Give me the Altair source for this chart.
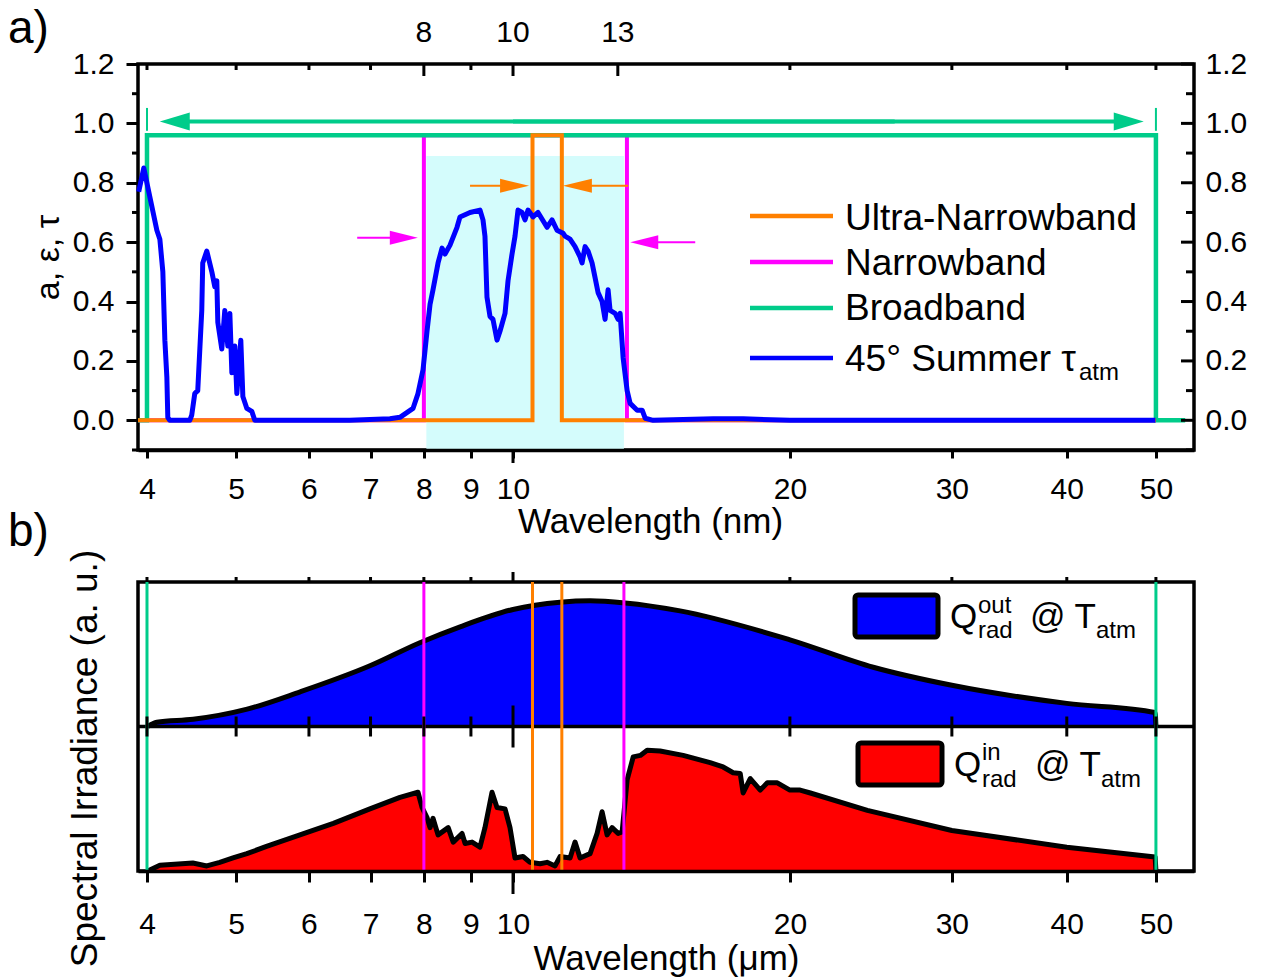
import math
import altair as alt
import pandas as pd

FONT = "Liberation Sans"
ORANGE = "#ff8000"
MAGENTA = "#ff00ff"
GREEN = "#00cc8a"
BLUE = "#0000ff"
RED = "#ff0000"
CYAN = "#d4fcfc"

# ---------------- values ----------------
# panel a : 45 deg summer atmospheric transmittance
tau_wl = [3.918, 3.968, 4.100, 4.131, 4.162, 4.183, 4.204, 4.214, 4.235, 4.452,
          4.474, 4.508, 4.542, 4.588, 4.599, 4.646, 4.705, 4.740, 4.764, 4.776,
          4.824, 4.860, 4.897, 4.922, 4.947, 4.984, 5.009, 5.059, 5.085, 5.136,
          5.200, 5.239, 5.866, 6.646, 7.348, 7.535, 7.785, 7.883, 7.983, 8.063,
          8.124, 8.185, 8.289, 8.372, 8.435, 8.541, 8.692, 8.757, 8.979, 9.206,
          9.276, 9.322, 9.369, 9.440, 9.511, 9.607, 9.679, 9.802, 9.876, 9.975,
          10.050, 10.126, 10.228, 10.305, 10.383, 10.514, 10.646, 10.889, 11.026, 11.165,
          11.334, 11.391, 11.535, 11.680, 11.828, 11.887, 11.977, 12.067, 12.189, 12.281,
          12.373, 12.498, 12.592, 12.687, 12.751, 12.912, 13.010, 13.075, 13.174, 13.306,
          13.407, 13.645, 13.817, 13.921, 14.203, 16.509, 17.796, 20.0, 49.94]
tau_val = [0.77, 0.85, 0.64, 0.61, 0.50, 0.27, 0.145, 0.01, 0.0, 0.0,
           0.017, 0.09, 0.10, 0.37, 0.53, 0.57, 0.50, 0.45, 0.47, 0.33,
           0.24, 0.37, 0.25, 0.36, 0.16, 0.25, 0.09, 0.27, 0.08, 0.04,
           0.03, 0.0, 0.0, 0.0, 0.005, 0.01, 0.04, 0.09, 0.17, 0.30,
           0.39, 0.44, 0.53, 0.58, 0.56, 0.59, 0.65, 0.685, 0.70, 0.708,
           0.675, 0.62, 0.415, 0.35, 0.34, 0.27, 0.30, 0.36, 0.47, 0.56,
           0.62, 0.708, 0.70, 0.675, 0.708, 0.685, 0.70, 0.65, 0.675, 0.64,
           0.63, 0.62, 0.61, 0.585, 0.55, 0.53, 0.585, 0.57, 0.53, 0.48,
           0.43, 0.40, 0.34, 0.44, 0.37, 0.36, 0.34, 0.36, 0.21, 0.10,
           0.057, 0.034, 0.034, 0.007, 0.0, 0.005, 0.005, 0.0, 0.0]

# ideal emitters (step profiles)
ultra_wl = [3.911, 10.5, 10.5, 11.3, 11.3, 50.0]
ultra_val = [0.0, 0.0, 0.96, 0.96, 0.0, 0.0]
narrow_wl = [3.911, 8.0, 8.0, 13.3, 13.3, 50.0]
narrow_val = [0.0, 0.0, 0.96, 0.96, 0.0, 0.0]
broad_wl = [3.911, 4.0, 4.0, 50.0, 50.0, 53.8]
broad_val = [0.0, 0.0, 0.96, 0.96, 0.0, 0.0]

# atmospheric window shading
window_wl = [8.05, 13.2]
window_v = [-0.1, 0.89]

# arrows: (tail, tip, level)
broad_arrows = [(26.0, 4.13, 1.006), (10.0, 48.5, 1.006)]
broad_marks_wl = [4.0, 50.0]
broad_marks_v = [0.975, 1.052]
ultra_arrows = [(8.98, 10.41, 0.79), (13.34, 11.33, 0.79)]
narrow_arrows = [(6.77, 7.88, 0.615), (15.78, 13.41, 0.60)]

legend_names = ["Ultra-Narrowband", "Narrowband", "Broadband", "45° Summer τ"]
legend_colors = [ORANGE, MAGENTA, GREEN, BLUE]

# panel b : spectral irradiance (a.u.)
qout_wl = [4.007, 4.10, 4.49, 5.14, 5.87, 6.99, 7.92, 8.76, 10.0, 11.25,
           12.13, 13.24, 15.19, 20.0, 24.64, 30.0, 40.0, 49.9, 50.0]
qout_val = [0.0, 0.03, 0.05, 0.12, 0.24, 0.42, 0.58, 0.69, 0.81, 0.86,
            0.87, 0.855, 0.80, 0.60, 0.41, 0.285, 0.16, 0.097, 0.0]
qin_wl = [4.007, 4.131, 4.486, 4.646, 4.799, 4.961, 5.136, 5.395, 5.866, 6.378,
          6.989, 7.535, 7.883, 7.963, 8.063, 8.124, 8.185, 8.289, 8.502, 8.610,
          8.802, 8.870, 9.025, 9.206, 9.322, 9.488, 9.607, 9.802, 9.925, 10.050,
          10.254, 10.435, 10.701, 10.889, 11.110, 11.249, 11.535, 11.680, 11.828, 12.128,
          12.343, 12.498, 12.656, 12.815, 13.010, 13.141, 13.306, 13.511, 13.754, 13.99,
          14.45, 15.31, 16.38, 16.92, 17.35, 17.66, 17.79, 18.11, 18.57, 18.90,
          19.38, 20.0, 20.52, 21.05, 24.28, 30.0, 40.0, 49.9, 50.0]
qin_val = [0.0, 0.04, 0.055, 0.035, 0.06, 0.09, 0.12, 0.17, 0.25, 0.33,
           0.43, 0.51, 0.545, 0.44, 0.37, 0.30, 0.365, 0.25, 0.30, 0.20,
           0.26, 0.19, 0.20, 0.165, 0.30, 0.545, 0.44, 0.43, 0.30, 0.09,
           0.10, 0.06, 0.05, 0.06, 0.035, 0.10, 0.09, 0.20, 0.09, 0.12,
           0.26, 0.41, 0.25, 0.30, 0.26, 0.27, 0.63, 0.79, 0.80, 0.835,
           0.83, 0.80, 0.75, 0.72, 0.68, 0.675, 0.54, 0.64, 0.56, 0.61,
           0.61, 0.56, 0.56, 0.54, 0.42, 0.28, 0.165, 0.097, 0.0]
band_lines_b = [(GREEN, [4.0, 50.0]), (MAGENTA, [8.0, 13.2]), (ORANGE, [10.5, 11.3])]

# ticks
x_ticks = [4, 5, 6, 7, 8, 9, 10, 20, 30, 40, 50]
x_short = [4, 5, 6, 7, 8, 9, 20, 30, 40, 50]
x_long = [10]
top_labels = [8, 10, 13]
top_short = [4, 5, 6, 7, 9, 20, 30, 40, 50]
y_major = [0.0, 0.2, 0.4, 0.6, 0.8, 1.0, 1.2]
y_minor = [-0.1, 0.1, 0.3, 0.5, 0.7, 0.9, 1.1]

# ---------------- layout ----------------
W = 1056
HA = 386
HB = 289
X_DOMAIN = [3.911, 55.0]
PX_PER_DEC = W / (math.log10(X_DOMAIN[1]) - math.log10(X_DOMAIN[0]))
ONE = pd.DataFrame({"k": [0]})
TICK_FS = 30

xscale = alt.Scale(type="log", domain=X_DOMAIN, nice=False)
ya_scale = alt.Scale(domain=[-0.1, 1.2], nice=False, zero=False)
yb_scale = alt.Scale(domain=[0, 2], nice=False, zero=False)


def x_axis(title, tick, pad, title_x, title_y):
    kw = dict(values=x_ticks, format="d", tickSize=tick, tickWidth=3, tickColor="black",
              labelFontSize=TICK_FS, labelPadding=pad, labelOverlap=False, labelFlush=False,
              labelColor="black", domain=True, domainColor="black", domainWidth=3.5,
              grid=False, zindex=1, title=title, titleFontSize=35, titleFontWeight="normal",
              titleY=title_y, titleBaseline="alphabetic", titleAlign="center", titleColor="black")
    if title_x is not None:
        kw["titleX"] = title_x
    return alt.Axis(**kw)


XA = alt.X("wl:Q", scale=xscale, axis=x_axis("Wavelength (nm)", 8, 16, 512, 82))
YA = alt.Y("v:Q", scale=ya_scale,
           axis=alt.Axis(values=y_major, format=".1f", tickSize=12, tickWidth=3, tickColor="black",
                         labelFontSize=TICK_FS, labelPadding=12, labelColor="black", domain=False,
                         grid=False, title="a, ε, τ", titleFontSize=34, titleFontWeight="normal",
                         titleX=-80, titleY=HA / 2, titleAngle=270, titleBaseline="alphabetic",
                         titleAlign="center", titleColor="black"))
YA_R = alt.Y("v:Q", scale=ya_scale,
             axis=alt.Axis(orient="right", values=y_major, format=".1f", ticks=False,
                           domain=False, grid=False, labelFontSize=TICK_FS, labelPadding=11,
                           labelColor="black", title=None))
XB = alt.X("wl:Q", scale=xscale, axis=x_axis("Wavelength (μm)", 11, 27, None, 98))
YB = alt.Y("top:Q", scale=yb_scale,
           axis=alt.Axis(labels=False, ticks=False, domain=False, grid=False,
                         title="Spectral Irradiance (a. u.)", titleFontSize=37,
                         titleFontWeight="normal", titleX=-42, titleY=176, titleAngle=270,
                         titleBaseline="alphabetic", titleAlign="center", titleColor="black"))


def text_at(s, x, y, size, align="left"):
    return alt.Chart(ONE).mark_text(text=s, font=FONT, fontSize=size, color="black",
                                    align=align, baseline="alphabetic").encode(
        x=alt.value(x), y=alt.value(y))


def step_line(wl, val, color, width):
    df = pd.DataFrame({"wl": wl, "v": val, "i": list(range(len(wl)))})
    return alt.Chart(df).mark_line(color=color, strokeWidth=width).encode(
        x=XA, y=YA, order=alt.Order("i:Q"))


def arrow(tail, tip, level, color, width, head_len, head_half):
    back = 10 ** ((head_len / 2) / PX_PER_DEC)
    end = tip / back if tip > tail else tip * back
    shaft = alt.Chart(pd.DataFrame({"wl": [min(tail, end)], "wl2": [max(tail, end)], "v": [level]})) \
        .mark_rule(color=color, strokeWidth=width).encode(x=XA, x2="wl2", y=YA)
    h = 2 * head_half / head_len
    if tip > tail:
        path = f"M0,0L-2,-{h:.3f}L-2,{h:.3f}Z"
    else:
        path = f"M0,0L2,-{h:.3f}L2,{h:.3f}Z"
    head = alt.Chart(pd.DataFrame({"wl": [tip], "v": [level]})).mark_point(
        shape=path, size=head_len ** 2, filled=True, opacity=1, color=color, strokeWidth=0
    ).encode(x=XA, y=YA)
    return [shaft, head]


# ---------------- panel a ----------------
layers_a = []
layers_a.append(alt.Chart(pd.DataFrame({"wl": [window_wl[0]], "wl2": [window_wl[1]],
                                        "v": [window_v[0]], "v2": [window_v[1]]}))
                .mark_rect(color=CYAN).encode(x=XA, x2="wl2", y=YA, y2="v2"))
layers_a.append(step_line(narrow_wl, narrow_val, MAGENTA, 4))
layers_a.append(step_line(broad_wl, broad_val, GREEN, 4.5))
layers_a.append(step_line(ultra_wl, ultra_val, ORANGE, 4))
layers_a.append(alt.Chart(pd.DataFrame({"wl": tau_wl, "v": tau_val})).mark_line(
    color=BLUE, strokeWidth=5, strokeJoin="round").encode(x=XA, y=YA))

# broadband double arrow + end markers
for tail, tip, lev in broad_arrows:
    layers_a += arrow(tail, tip, lev, GREEN, 4, 30, 9)
layers_a.append(alt.Chart(pd.DataFrame({"wl": broad_marks_wl,
                                        "v": [broad_marks_v[0]] * 2,
                                        "v2": [broad_marks_v[1]] * 2}))
                .mark_rule(color=GREEN, strokeWidth=2).encode(x=XA, y=YA, y2="v2"))
for tail, tip, lev in ultra_arrows:
    layers_a += arrow(tail, tip, lev, ORANGE, 2, 29, 7)
for tail, tip, lev in narrow_arrows:
    layers_a += arrow(tail, tip, lev, MAGENTA, 2, 28, 7)

# minor / inward ticks
layers_a.append(alt.Chart(pd.DataFrame({"v": y_minor})).mark_rule(color="black", strokeWidth=3)
                .encode(y=YA, x=alt.value(-6), x2=alt.value(0)))
layers_a.append(alt.Chart(pd.DataFrame({"wl": top_labels})).mark_rule(color="black", strokeWidth=3)
                .encode(x=XA, y=alt.value(0), y2=alt.value(12)))
layers_a.append(alt.Chart(pd.DataFrame({"wl": top_short})).mark_rule(color="black", strokeWidth=3)
                .encode(x=XA, y=alt.value(0), y2=alt.value(6)))
layers_a.append(alt.Chart(pd.DataFrame({"wl": x_long})).mark_rule(color="black", strokeWidth=3)
                .encode(x=XA, y=alt.value(HA), y2=alt.value(HA + 13)))
layers_a.append(alt.Chart(pd.DataFrame({"wl": top_labels, "lab": [str(t) for t in top_labels]}))
                .mark_text(font=FONT, fontSize=TICK_FS, color="black", baseline="alphabetic")
                .encode(x=XA, y=alt.value(-22), text="lab:N"))

# legend of panel a
row_line_y = [152, 198, 244, 294]
row_text_y = [166, 211, 256, 307]
for name, col, ly, ty in zip(legend_names, legend_colors, row_line_y, row_text_y):
    layers_a.append(alt.Chart(ONE).mark_rule(color=col, strokeWidth=4.5)
                    .encode(x=alt.value(612), x2=alt.value(695), y=alt.value(ly)))
    layers_a.append(text_at(name, 707, ty, 37))
layers_a.append(text_at("atm", 941, 316, 24))
layers_a.append(text_at("a)", -130, -21, 46))

right_a = alt.layer(
    alt.Chart(pd.DataFrame({"v": y_major})).mark_rule(color="black", strokeWidth=3)
    .encode(x=alt.value(W - 13), x2=alt.value(W), y=YA_R),
    alt.Chart(pd.DataFrame({"v": y_minor})).mark_rule(color="black", strokeWidth=3)
    .encode(x=alt.value(W - 8), x2=alt.value(W), y=YA_R),
)
panel_a = alt.layer(alt.layer(*layers_a), right_a).resolve_scale(y="independent") \
    .properties(width=W, height=HA)

# ---------------- panel b ----------------
qout_df = pd.DataFrame({"wl": qout_wl, "q": qout_val})
qin_df = pd.DataFrame({"wl": qin_wl, "q": qin_val})
layers_b = [
    alt.Chart(qout_df).transform_calculate(top="datum.q + 1", base="1")
    .mark_area(color=BLUE, interpolate="monotone").encode(x=XB, y=YB, y2="base:Q"),
    alt.Chart(qout_df).transform_calculate(top="datum.q + 1")
    .mark_line(color="black", strokeWidth=5, interpolate="monotone").encode(x=XB, y=YB),
    alt.Chart(qin_df).transform_calculate(top="datum.q", base="0")
    .mark_area(color=RED).encode(x=XB, y=YB, y2="base:Q"),
    alt.Chart(qin_df).transform_calculate(top="datum.q")
    .mark_line(color="black", strokeWidth=5, strokeJoin="round").encode(x=XB, y=YB),
    alt.Chart(pd.DataFrame({"top": [1]})).mark_rule(color="black", strokeWidth=3.5).encode(y=YB),
]
for col, wls in band_lines_b:
    layers_b.append(alt.Chart(pd.DataFrame({"wl": wls})).mark_rule(color=col, strokeWidth=3)
                    .encode(x=XB))
mid = HB / 2
for ticks, top_len, mid_len, bot_len in [(x_short, 5, 10, 0), (x_long, 10, 21, 23)]:
    tdf = pd.DataFrame({"wl": ticks})
    layers_b.append(alt.Chart(tdf).mark_rule(color="black", strokeWidth=3)
                    .encode(x=XB, y=alt.value(-top_len), y2=alt.value(0)))
    layers_b.append(alt.Chart(tdf).mark_rule(color="black", strokeWidth=3)
                    .encode(x=XB, y=alt.value(mid - mid_len), y2=alt.value(mid + mid_len)))
    if bot_len:
        layers_b.append(alt.Chart(tdf).mark_rule(color="black", strokeWidth=3)
                        .encode(x=XB, y=alt.value(HB), y2=alt.value(HB + bot_len)))

# legends of panel b
layers_b.append(alt.Chart(ONE).mark_rect(fill=BLUE, stroke="black", strokeWidth=5, cornerRadius=3)
                .encode(x=alt.value(717), x2=alt.value(800), y=alt.value(13), y2=alt.value(55)))
layers_b += [text_at("Q", 812, 46, 35), text_at("out", 840, 31, 24), text_at("rad", 840, 56, 24),
             text_at("@ T", 892, 46, 35), text_at("atm", 958, 56, 24)]
layers_b.append(alt.Chart(ONE).mark_rect(fill=RED, stroke="black", strokeWidth=5, cornerRadius=3)
                .encode(x=alt.value(720), x2=alt.value(804), y=alt.value(161), y2=alt.value(203)))
layers_b += [text_at("Q", 816, 194, 35), text_at("in", 844, 178, 24), text_at("rad", 844, 205, 24),
             text_at("@ T", 897, 194, 35), text_at("atm", 963, 205, 24)]
layers_b.append(text_at("b)", -130, -36, 46))

panel_b = alt.layer(*layers_b).properties(width=W, height=HB)

chart = alt.vconcat(panel_a, panel_b, spacing=132, bounds="flush").properties(
    padding={"left": 6, "top": 4, "right": 5, "bottom": 5}
).configure(font=FONT).configure_view(stroke="black", strokeWidth=3.5).configure_axis(
    labelFont=FONT, titleFont=FONT)

chart.save("out.html", embed_options={"renderer": "svg", "actions": False})
